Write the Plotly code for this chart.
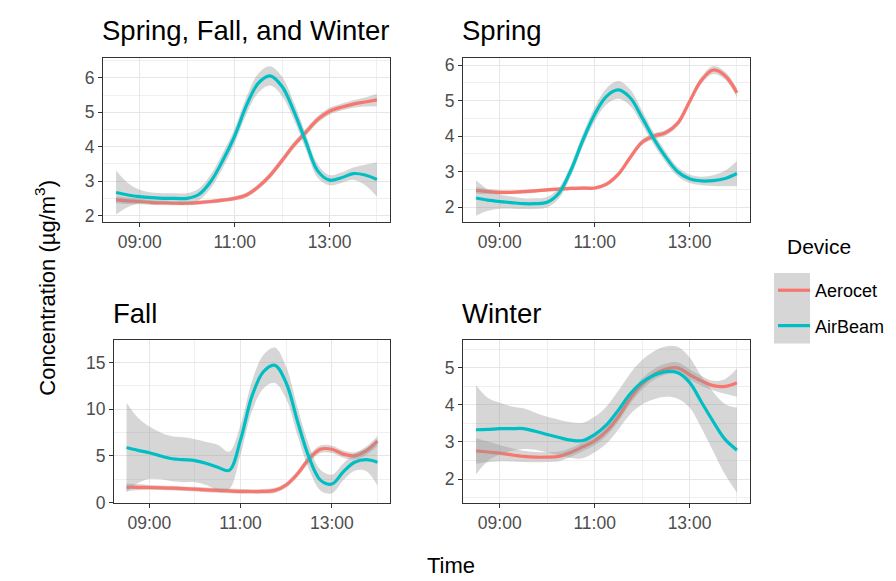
import plotly.graph_objects as go
import pandas as pd

# ---------------- data ----------------
times = pd.date_range("2021-01-01 08:30", "2021-01-01 14:00", freq="15min")

panels = ["Spring, Fall, and Winter", "Spring", "Fall", "Winter"]
devices = ["Aerocet", "AirBeam"]

# Spring, Fall, and Winter
sfw_aerocet = [2.46, 2.43, 2.41, 2.38, 2.37, 2.36, 2.36, 2.38, 2.41, 2.45, 2.50, 2.60,
               2.84, 3.17, 3.60, 4.05, 4.42, 4.79, 5.03, 5.15, 5.24, 5.30, 5.36]
sfw_aerocet_ci = [0.10, 0.09, 0.08, 0.07, 0.06, 0.06, 0.06, 0.06, 0.06, 0.06, 0.06, 0.07,
                  0.08, 0.09, 0.10, 0.10, 0.10, 0.10, 0.10, 0.10, 0.11, 0.13, 0.18]
sfw_airbeam = [2.67, 2.60, 2.55, 2.52, 2.50, 2.50, 2.50, 2.62, 3.00, 3.60, 4.31, 5.20,
               5.85, 6.06, 5.75, 5.03, 4.15, 3.30, 3.03, 3.10, 3.22, 3.18, 3.05]
sfw_airbeam_ci = [0.64, 0.35, 0.20, 0.15, 0.15, 0.15, 0.15, 0.17, 0.20, 0.22, 0.22, 0.25,
                  0.28, 0.28, 0.28, 0.25, 0.22, 0.20, 0.15, 0.15, 0.18, 0.30, 0.50]

# Spring
spr_aerocet = [2.47, 2.44, 2.42, 2.42, 2.44, 2.46, 2.49, 2.51, 2.53, 2.54, 2.54, 2.65,
               2.93, 3.40, 3.83, 4.00, 4.10, 4.36, 4.97, 5.57, 5.86, 5.70, 5.22]
spr_aerocet_ci = [0.09, 0.07, 0.06, 0.05, 0.05, 0.05, 0.05, 0.05, 0.05, 0.05, 0.05, 0.06,
                  0.07, 0.08, 0.08, 0.08, 0.08, 0.09, 0.10, 0.10, 0.11, 0.11, 0.13]
spr_airbeam = [2.26, 2.20, 2.16, 2.13, 2.10, 2.10, 2.14, 2.40, 3.04, 3.88, 4.61, 5.12,
               5.30, 5.08, 4.52, 3.92, 3.41, 3.00, 2.80, 2.74, 2.75, 2.81, 2.95]
spr_airbeam_ci = [0.50, 0.30, 0.20, 0.17, 0.15, 0.15, 0.15, 0.15, 0.16, 0.18, 0.20, 0.23,
                  0.25, 0.23, 0.20, 0.17, 0.15, 0.13, 0.12, 0.12, 0.15, 0.22, 0.35]

# Fall
fal_aerocet = [1.66, 1.65, 1.63, 1.60, 1.56, 1.50, 1.45, 1.38, 1.32, 1.26, 1.21, 1.20,
               1.21, 1.32, 1.90, 3.10, 4.68, 5.72, 5.72, 5.20, 5.02, 5.54, 6.58]
fal_aerocet_ci = [0.40, 0.32, 0.28, 0.25, 0.25, 0.25, 0.25, 0.25, 0.25, 0.25, 0.25, 0.25,
                  0.25, 0.27, 0.30, 0.35, 0.40, 0.40, 0.40, 0.38, 0.38, 0.45, 0.55]
fal_airbeam = [5.90, 5.60, 5.35, 5.00, 4.70, 4.60, 4.50, 4.20, 3.80, 3.46, 6.75, 11.40,
               14.00, 14.70, 12.80, 8.66, 4.85, 2.42, 2.00, 3.30, 4.33, 4.60, 4.33]
fal_airbeam_ci = [4.80, 3.50, 2.80, 2.50, 2.40, 2.40, 2.30, 2.30, 2.40, 2.00, 1.60, 1.60,
                  1.80, 1.90, 1.70, 1.50, 1.30, 1.10, 1.00, 0.90, 0.90, 1.20, 2.50]

# Winter
win_aerocet = [2.76, 2.73, 2.70, 2.65, 2.61, 2.59, 2.59, 2.61, 2.72, 2.87, 3.03, 3.29,
               3.68, 4.17, 4.56, 4.82, 4.97, 5.00, 4.82, 4.65, 4.52, 4.50, 4.60]
win_aerocet_ci = [0.35, 0.28, 0.22, 0.18, 0.15, 0.14, 0.13, 0.13, 0.12, 0.12, 0.12, 0.12,
                  0.13, 0.14, 0.15, 0.15, 0.15, 0.15, 0.14, 0.13, 0.13, 0.20, 0.38]
win_airbeam = [3.33, 3.34, 3.36, 3.36, 3.36, 3.29, 3.20, 3.12, 3.05, 3.04, 3.20, 3.46,
               3.86, 4.30, 4.61, 4.80, 4.90, 4.87, 4.61, 4.08, 3.55, 3.07, 2.78]
win_airbeam_ci = [1.20, 0.85, 0.70, 0.60, 0.55, 0.50, 0.48, 0.48, 0.48, 0.48, 0.48, 0.50,
                  0.52, 0.55, 0.60, 0.65, 0.68, 0.70, 0.68, 0.70, 0.80, 0.95, 1.15]

series = {
    "Spring, Fall, and Winter": [(sfw_aerocet, sfw_aerocet_ci), (sfw_airbeam, sfw_airbeam_ci)],
    "Spring": [(spr_aerocet, spr_aerocet_ci), (spr_airbeam, spr_airbeam_ci)],
    "Fall": [(fal_aerocet, fal_aerocet_ci), (fal_airbeam, fal_airbeam_ci)],
    "Winter": [(win_aerocet, win_aerocet_ci), (win_airbeam, win_airbeam_ci)],
}

y_ranges = [[1.81, 6.58], [1.58, 6.20], [0.0, 17.35], [1.36, 5.74]]
y_dtick = [1, 1, 5, 1]

# ---------------- styling ----------------
W, H = 896, 581
colors = {"Aerocet": "#F8766D", "AirBeam": "#00BFC4"}
ribbon = "rgba(153,153,153,0.4)"
FONT = "Liberation Sans, Arial, sans-serif"

# panel boxes in pixels: (left, top, right, bottom)
boxes = [(95, 48, 382, 216), (455, 48, 742, 216), (106, 337, 382, 503), (455, 337, 742, 503)]


def px_x(v):
    return v / W


def px_y(v):
    return 1 - v / H


fig = go.Figure()

for i, name in enumerate(panels):
    ax = "" if i == 0 else str(i + 1)
    for dev, (vals, ci) in zip(devices, series[name]):
        upper = [v + c for v, c in zip(vals, ci)]
        lower = [v - c for v, c in zip(vals, ci)]
        fig.add_trace(go.Scatter(x=times, y=upper, mode="lines", line=dict(width=0, shape="spline"),
                                 xaxis="x" + ax, yaxis="y" + ax, showlegend=False, hoverinfo="skip"))
        fig.add_trace(go.Scatter(x=times, y=lower, mode="lines", line=dict(width=0, shape="spline"),
                                 fill="tonexty", fillcolor=ribbon,
                                 xaxis="x" + ax, yaxis="y" + ax, showlegend=False, hoverinfo="skip"))
        fig.add_trace(go.Scatter(x=times, y=vals, mode="lines", name=dev,
                                 line=dict(color=colors[dev], width=3.2, shape="spline"),
                                 xaxis="x" + ax, yaxis="y" + ax, legendgroup=dev,
                                 showlegend=(i == 0)))

layout = dict(
    width=W, height=H, margin=dict(l=0, r=0, t=0, b=0),
    paper_bgcolor="white", plot_bgcolor="white",
    font=dict(family=FONT, color="#4D4D4D"),
)

for i, (l, t, r, b) in enumerate(boxes):
    ax = "" if i == 0 else str(i + 1)
    layout["xaxis" + ax] = dict(
        domain=[px_x(l), px_x(r)], anchor="y" + ax, type="date",
        range=["2021-01-01 08:13:30", "2021-01-01 14:16:30"],
        tickmode="linear", tick0="2021-01-01 09:00", dtick=7200000, tickformat="%H:%M",
        showgrid=True, gridcolor="#E6E6E6", gridwidth=1.2,
        minor=dict(dtick=3600000, tick0="2021-01-01 09:00", showgrid=True, gridcolor="#EFEFEF", gridwidth=0.7),
        ticks="outside", ticklen=4, tickcolor="#333333",
        showline=True, mirror=True, linecolor="#333333", linewidth=1,
        tickfont=dict(size=17.5, color="#4D4D4D"), zeroline=False,
    )
    layout["yaxis" + ax] = dict(
        domain=[px_y(b), px_y(t)], anchor="x" + ax,
        range=y_ranges[i], tickmode="linear", tick0=0, dtick=y_dtick[i],
        showgrid=True, gridcolor="#E6E6E6", gridwidth=1.2,
        minor=dict(dtick=y_dtick[i] / 2, showgrid=True, gridcolor="#EFEFEF", gridwidth=0.7),
        ticks="outside", ticklen=4, tickcolor="#333333",
        showline=True, mirror=True, linecolor="#333333", linewidth=1,
        tickfont=dict(size=17.5, color="#4D4D4D"), zeroline=False,
    )

fig.update_layout(**layout)

annotations = []
for i, name in enumerate(panels):
    l, t, r, b = boxes[i]
    annotations.append(dict(text=name, x=px_x(l - 3), y=px_y(t - 28), xref="paper", yref="paper",
                            xanchor="left", yanchor="middle", showarrow=False,
                            font=dict(size=27.5, color="black", family=FONT)))
annotations.append(dict(text="Concentration (µg/m<sup>3</sup>)", x=px_x(37), y=px_y(283),
                        xref="paper", yref="paper", textangle=-90, showarrow=False,
                        xanchor="center", yanchor="middle",
                        font=dict(size=22, color="black", family=FONT)))
annotations.append(dict(text="Time", x=px_x(443), y=px_y(567), xref="paper", yref="paper",
                        showarrow=False, xanchor="center", yanchor="middle",
                        font=dict(size=22, color="black", family=FONT)))
annotations.append(dict(text="Device", x=px_x(777), y=px_y(241), xref="paper", yref="paper",
                        showarrow=False, xanchor="left", yanchor="middle",
                        font=dict(size=21, color="black", family=FONT)))
fig.update_layout(annotations=annotations)

fig.add_shape(type="rect", xref="paper", yref="paper", x0=px_x(766), x1=px_x(802),
              y0=px_y(340), y1=px_y(268), fillcolor="#D6D6D6", line=dict(width=0), layer="below")

fig.update_layout(legend=dict(
    x=px_x(765), y=px_y(267), xanchor="left", yanchor="top",
    bgcolor="rgba(0,0,0,0)", tracegroupgap=9, itemwidth=32,
    font=dict(size=18, color="black", family=FONT),
))

fig.write_html("out.html")
